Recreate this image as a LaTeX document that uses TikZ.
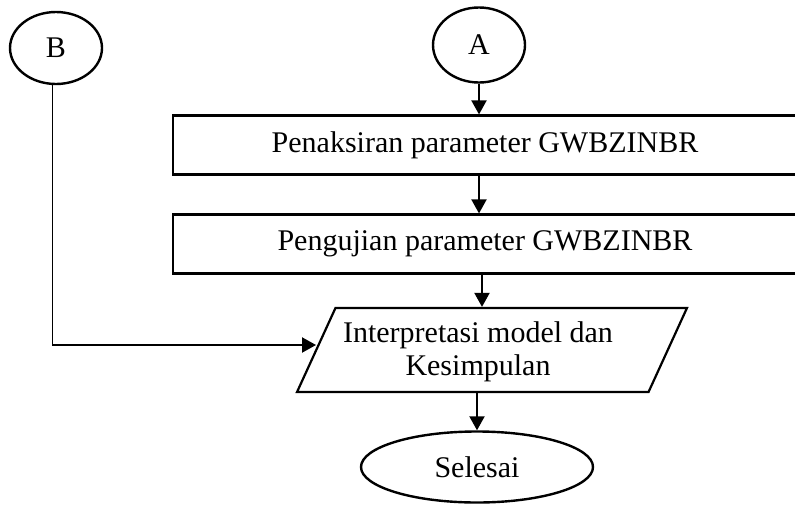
\documentclass[tikz,border=0pt]{standalone}
\usepackage{fontspec}
\setmainfont{Liberation Serif}
\usetikzlibrary{arrows.meta,positioning,calc,shapes.geometric}

\begin{document}
\begin{tikzpicture}[x=1pt,y=-1pt,
  term/.style={draw, ellipse, line width=2.4pt, inner sep=0pt},
  proc/.style={draw, line width=2.2pt, minimum width=624pt, minimum height=59pt, inner sep=0pt},
  io/.style={draw, trapezium, trapezium left angle=83, trapezium right angle=97, trapezium stretches=true, line width=2.2pt, minimum width=390pt, minimum height=84pt},
  txt/.style={align=center, inner sep=0pt},
  link/.style={line width=2pt},
  >={Triangle[length=14pt,width=15pt]},
  every node/.style={font=\fontsize{30}{33}\selectfont}]
\useasboundingbox (0,0) rectangle (795,504);
% connectors
\node[term, minimum width=92pt, minimum height=72pt] (b) at (56,48) {B};
\node[term, minimum width=92pt, minimum height=75pt] (a) at (479,45) {A};
\node[proc] (pen) at (485,145) {Penaksiran parameter GWBZINBR};
\node[proc] (uji) at (485,244) {Pengujian parameter GWBZINBR};
\node[io] (int) at (492,350) {};
\node[txt] (intlbl) at (478,352) {Interpretasi model dan\\Kesimpulan};
\node[term, minimum width=232pt, minimum height=71pt] (sel) at (477,467) {Selesai};

\draw[->,link] (a.south) -- (a.south |- pen.north);
\draw[->,link] (a.south |- pen.south) -- (a.south |- uji.north);
\draw[->,link] ($(a.south |- uji.south)+(3,0)$) -- ($(a.south |- int.north)+(3,0)$);
\draw[->,link] (sel.north |- int.south) -- (sel.north);
\coordinate (bturn) at ($(b.south |- int.west)+(-4,-5)$);
\draw[line width=1pt] ($(b.south)+(-4,0)$) -- (bturn);
\draw[->,link] (bturn) -- ($(int.west)+(1,-5)$);
\end{tikzpicture}
\end{document}
